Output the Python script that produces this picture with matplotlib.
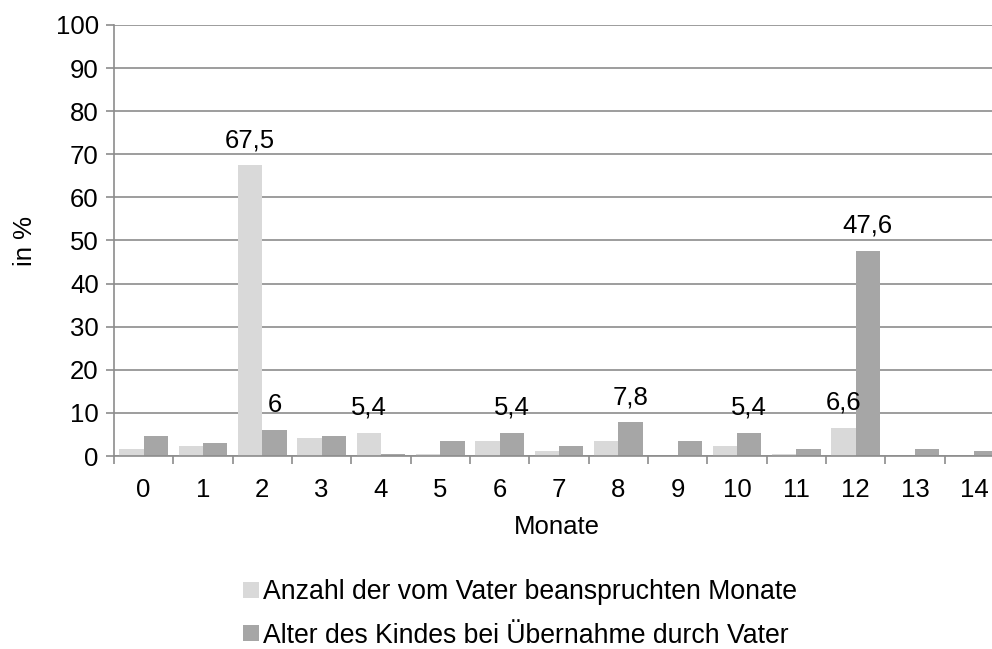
import numpy as np
import matplotlib
matplotlib.use('Agg')
import matplotlib.pyplot as plt
from matplotlib.patches import Patch

plt.rcParams['font.family'] = ['Liberation Sans', 'DejaVu Sans']

# --- data ---
monate = ['0', '1', '2', '3', '4', '5', '6', '7', '8', '9', '10', '11', '12', '13', '14']
anzahl = [1.6, 2.3, 67.5, 4.1, 5.4, 0.5, 3.5, 1.1, 3.5, 0.0, 2.3, 0.5, 6.6, 0.0, 0.0]
alter = [4.7, 3.0, 6.0, 4.7, 0.5, 3.4, 5.4, 2.3, 7.8, 3.4, 5.4, 1.6, 47.6, 1.6, 1.1]
label_anzahl = {2: '67,5', 4: '5,4', 12: '6,6'}
label_alter = {2: '6', 6: '5,4', 8: '7,8', 10: '5,4', 12: '47,6'}

c_light = '#d9d9d9'
c_dark = '#a6a6a6'
c_grid = '#8c8c8c'

fig = plt.figure(figsize=(9.92, 6.49), dpi=100)
ax = fig.add_axes([114 / 992, 193 / 649, 890 / 992, 431 / 649])

x = np.arange(len(monate))
w = 0.41
b1 = ax.bar(x - w / 2, anzahl, w, color=c_light, zorder=2)
b2 = ax.bar(x + w / 2, alter, w, color=c_dark, zorder=2)

fs = 18.5
for i, txt in label_anzahl.items():
    ax.annotate(txt, (x[i] - w / 2, anzahl[i]), xytext=(0, 18), textcoords='offset points',
                ha='center', va='center', fontsize=fs)
for i, txt in label_alter.items():
    ax.annotate(txt, (x[i] + w / 2, alter[i]), xytext=(0, 18), textcoords='offset points',
                ha='center', va='center', fontsize=fs)

ax.set_xlim(-0.5, 14.5)
ax.set_ylim(0, 100)
ax.set_yticks(np.arange(0, 101, 10))
ax.yaxis.grid(True, color=c_grid, linewidth=1.2, zorder=0)
ax.set_axisbelow(True)
ax.set_xticks(x)
ax.set_xticklabels(monate)
ax.set_xticks(np.arange(-0.5, 15, 1), minor=True)
ax.tick_params(axis='x', which='major', length=0, labelsize=fs, pad=15.5)
ax.tick_params(axis='x', which='minor', length=6, width=1.2, color=c_grid)
ax.tick_params(axis='y', length=6, width=1.2, color=c_grid, labelsize=fs, pad=5)

for s in ['top', 'right']:
    ax.spines[s].set_visible(False)
for s in ['left', 'bottom']:
    ax.spines[s].set_color(c_grid)
    ax.spines[s].set_linewidth(1.2)

ax.set_ylabel('in %', fontsize=fs)
ax.yaxis.set_label_coords(-0.087, 0.5)
ax.set_xlabel('Monate', fontsize=fs)
ax.xaxis.set_label_coords(0.498, -0.136)

handles = [Patch(facecolor=c_light, label='Anzahl der vom Vater beanspruchten Monate'),
           Patch(facecolor=c_dark, label='Alter des Kindes bei Übernahme durch Vater')]
fig.legend(handles=handles, loc='center', bbox_to_anchor=(520 / 992, 1 - 614 / 649),
           ncol=1, frameon=False, fontsize=19.2, handlelength=0.6, handleheight=0.55,
           handletextpad=0.13, labelspacing=0.66)

fig.savefig('out.png', dpi=100)
